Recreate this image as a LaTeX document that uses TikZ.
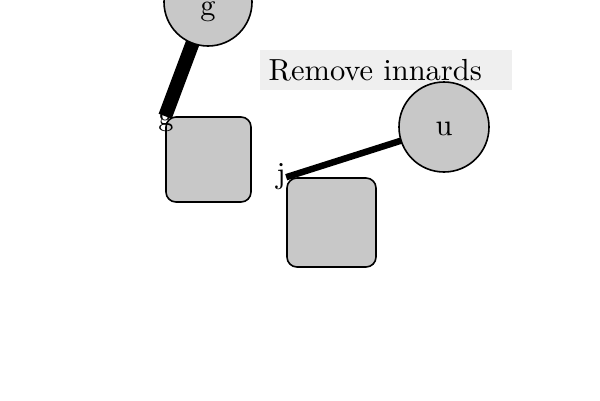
\documentclass[tikz,border=0pt]{standalone}
\usetikzlibrary{shapes.geometric}
\definecolor{boxgray}{HTML}{C8C8C8}
\definecolor{bannergray}{HTML}{EFEFEF}
\tikzset{
  bigfont/.style={font=\fontsize{10}{12}\selectfont, scale=3.05},
  roundbox/.style={draw=black, line width=1.6pt, fill=boxgray, rounded corners=10pt, minimum width=#1, minimum height=#1, inner sep=0pt},
  disc/.style={draw=black, line width=1.6pt, fill=boxgray, circle, minimum size=#1, inner sep=0pt},
  txt/.style={bigfont, inner sep=0pt, anchor=base},
  link/.style={draw=black, line width=#1}
}
\begin{document}
\begin{tikzpicture}[x=1pt, y=-1pt]
\useasboundingbox (0,0) rectangle (600,400);
% banner
\node[fill=bannergray, minimum width=252pt, minimum height=40pt, inner sep=0pt] (banner) at (386,70) {};
\node[txt, anchor=base west] (bannertext) at (268,80) {Remove innards};
% boxes
\node[roundbox=85pt] (box1) at (208.5,159.5) {};
\node[roundbox=89pt] (box2) at (331.5,222.5) {};
% links
\draw[link=14pt] (box1.north west) -- (208,2);
\draw[link=6.5pt] (box2.north west) -- (444,127);
% circles
\node[disc=88pt] (g) at (208,2) {};
\node[disc=90pt] (u) at (444,127) {};
\node[txt] (gtext) at (208,15) {g};
\node[txt] (utext) at (444,135) {u};
% corner labels
\node[txt] (lg) at (166,125) {g};
\node[txt] (lj) at (281,183) {j};
\end{tikzpicture}
\end{document}
